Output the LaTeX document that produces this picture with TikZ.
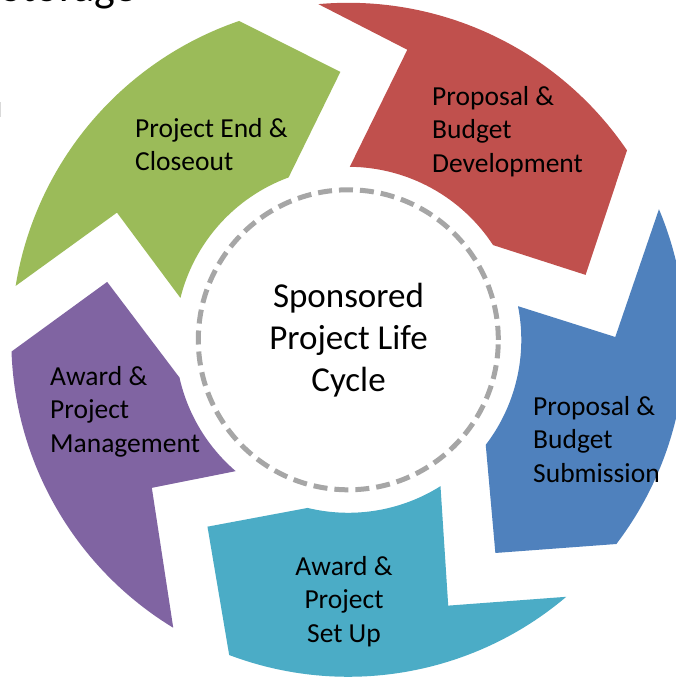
\documentclass[tikz,border=0pt]{standalone}
\usepackage{fontspec}
\setmainfont{Carlito}
\definecolor{cgreen}{HTML}{9BBB59}
\definecolor{cred}{HTML}{C0504D}
\definecolor{cblue}{HTML}{4F81BD}
\definecolor{ccyan}{HTML}{4BACC6}
\definecolor{cpurple}{HTML}{8064A2}
\definecolor{cdash}{HTML}{A6A6A6}
\begin{document}
\begin{tikzpicture}[x=1pt,y=1pt,
  lbl/.style={inner sep=0pt, font=\fontsize{27.5}{33.5}\selectfont, align=left, text=black},
  ctr/.style={inner sep=0pt, font=\fontsize{35}{42}\selectfont, align=center, text=black},
  ring/.style={draw=cdash, line width=5pt, dash pattern=on 14pt off 7pt}
]
\useasboundingbox (0,0) rectangle (675,679);
\fill[white] (0,0) rectangle (675,679);
\coordinate (C) at (348.3,339.2);
\def\Ro{337}\def\Ri{173}
\begin{scope}[shift={(C)}]
% green
\fill[cgreen] (170.8:\Ro) arc[start angle=170.8,end angle=108.9,radius=\Ro] -- (91.7:268) -- (110.2:\Ri) arc[start angle=110.2,end angle=166,radius=\Ri] -- (151.2:264) -- cycle;
% red
\fill[cred] (95.1:\Ro) arc[start angle=95.1,end angle=34.2,radius=\Ro] -- (15.3:246) -- (33.2:\Ri) arc[start angle=33.2,end angle=89.5,radius=\Ri] -- (78.5:296) -- cycle;
% blue
\fill[cblue] (22.8:\Ro) arc[start angle=22.8,end angle=-37.3,radius=\Ro] -- (-55.4:259) -- (-37.4:\Ri) arc[start angle=-37.4,end angle=11.2,radius=\Ri] -- (0.6:267) -- cycle;
% cyan
\fill[ccyan] (-49.7:\Ro) arc[start angle=-49.7,end angle=-110.7,radius=\Ro] -- (-127:234) -- (-103.6:\Ri) arc[start angle=-103.6,end angle=-57.8,radius=\Ri] -- (-69.4:284) -- cycle;
% purple
\fill[cpurple] (238.7:\Ro) arc[start angle=238.7,end angle=182,radius=\Ro] -- (166.5:248) -- (192.6:\Ri) arc[start angle=192.6,end angle=229.4,radius=\Ri] -- (217:246) -- cycle;
\end{scope}
\draw[ring] (C) circle[radius=150];
\node[ctr, anchor=north] (hub) at (348.5,396) {Sponsored\\Project Life\\Cycle};
\node[lbl, anchor=north west] (s1) at (432,593) {Proposal \&\\Budget\\Development};
\node[lbl, anchor=north west] (s2) at (533,283) {Proposal \&\\Budget\\Submission};
\node[lbl, anchor=north, align=center] (s3) at (344,123) {Award \&\\Project\\Set Up};
\node[lbl, anchor=north west] (s4) at (50,313) {Award \&\\Project\\Management};
\node[lbl, anchor=north west] (s5) at (135,561) {Project End \&\\Closeout};
\node[inner sep=0pt, anchor=base east, font=\fontsize{44}{50}\selectfont] (title) at (137,677) {Storage};
\draw[black!15, line width=1pt] (0.5,562) -- (0.5,577);
\end{tikzpicture}
\end{document}
